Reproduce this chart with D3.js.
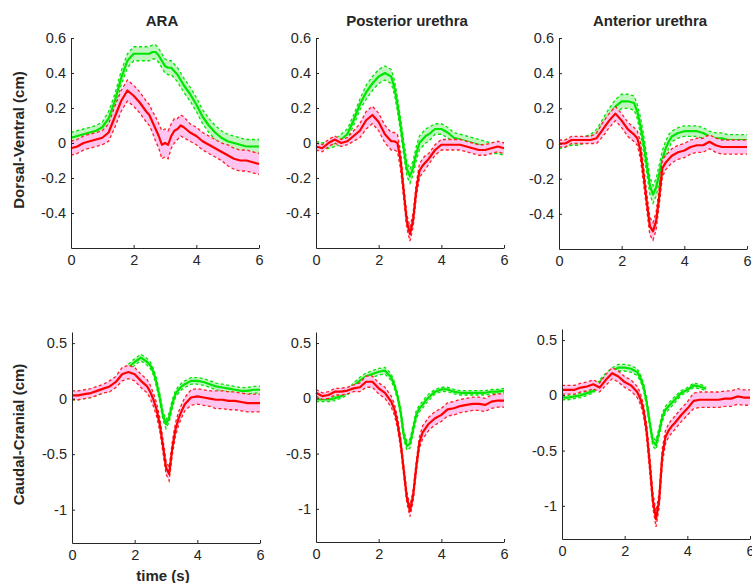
<!DOCTYPE html>
<html>
<head>
<meta charset="utf-8">
<script src="https://cdn.jsdelivr.net/npm/d3@7"></script>
<style>
  body { margin: 0; background: #fff; }
  svg { display: block; }
  text { font-family: "Liberation Sans", Arial, sans-serif; fill: #262626; }
</style>
</head>
<body>
<svg id="chart" width="752" height="583"></svg>
<script>
// time axis (s), finer around the dip
var time = [0,0.2,0.4,0.6,0.8,1.0,1.2,1.4,1.6,1.8,2.0,2.2,2.4,2.5,2.6,2.7,2.8,2.9,3.0,3.1,3.2,3.3,3.4,3.5,3.6,3.8,4.0,4.2,4.4,4.6,4.8,5.0,5.2,5.4,5.6,5.8,6.0];

var columnTitles = ["ARA", "Posterior urethra", "Anterior urethra"];
var rowLabels = ["Dorsal-Ventral (cm)", "Caudal-Cranial (cm)"];
var xTicks = [0, 2, 4, 6];
var dvTicks = [-0.4, -0.2, 0, 0.2, 0.4, 0.6];
var ccTicks = [-1, -0.5, 0, 0.5];
var dvDomain = [-0.6, 0.6];
var ccDomain = [-1.3, 0.6];

// dorsal-ventral, ARA
var dvAraGreen = [0.03,0.04,0.05,0.06,0.07,0.09,0.14,0.24,0.37,0.47,0.51,0.51,0.51,0.51,0.52,0.52,0.50,0.47,0.44,0.43,0.43,0.41,0.39,0.36,0.33,0.28,0.22,0.15,0.10,0.06,0.03,0.01,0.00,-0.01,-0.02,-0.02,-0.02];
var dvAraGreenSd = [0.03,0.03,0.03,0.03,0.03,0.03,0.04,0.04,0.04,0.04,0.04,0.04,0.04,0.04,0.04,0.04,0.04,0.04,0.04,0.04,0.04,0.04,0.04,0.04,0.04,0.04,0.04,0.04,0.04,0.04,0.04,0.04,0.04,0.04,0.04,0.04,0.04];
var dvAraRed = [-0.03,-0.02,0.00,0.01,0.02,0.03,0.06,0.15,0.24,0.30,0.27,0.23,0.18,0.16,0.12,0.08,0.04,-0.01,0.00,-0.01,0.04,0.07,0.08,0.10,0.09,0.06,0.04,0.01,-0.01,-0.03,-0.05,-0.07,-0.09,-0.10,-0.10,-0.11,-0.12];
var dvAraRedSd = [0.04,0.04,0.04,0.04,0.04,0.04,0.05,0.06,0.06,0.06,0.06,0.06,0.06,0.06,0.06,0.07,0.07,0.08,0.08,0.08,0.07,0.07,0.06,0.06,0.06,0.05,0.05,0.05,0.05,0.05,0.05,0.06,0.06,0.06,0.06,0.06,0.06];

// dorsal-ventral, posterior urethra
var dvPostGreen = [-0.01,-0.02,-0.01,0.00,0.02,0.05,0.13,0.22,0.29,0.34,0.38,0.40,0.38,0.32,0.22,0.10,-0.03,-0.15,-0.19,-0.14,-0.06,0.00,0.02,0.04,0.05,0.08,0.08,0.06,0.03,0.02,0.01,0.00,-0.01,-0.02,-0.03,-0.03,-0.04];
var dvPostGreenSd = [0.02,0.02,0.02,0.02,0.03,0.03,0.03,0.03,0.04,0.04,0.04,0.04,0.04,0.04,0.04,0.04,0.04,0.04,0.04,0.04,0.04,0.04,0.04,0.04,0.04,0.03,0.03,0.03,0.03,0.03,0.03,0.03,0.03,0.03,0.03,0.03,0.03];
var dvPostRed = [-0.02,-0.03,0.00,0.02,0.00,0.01,0.04,0.07,0.13,0.16,0.12,0.05,0.01,0.01,0.00,-0.10,-0.28,-0.45,-0.52,-0.44,-0.27,-0.16,-0.13,-0.11,-0.09,-0.04,-0.01,-0.01,-0.01,-0.01,-0.02,-0.03,-0.04,-0.04,-0.03,-0.02,-0.03];
var dvPostRedSd = [0.02,0.02,0.02,0.02,0.02,0.02,0.03,0.04,0.05,0.05,0.05,0.05,0.05,0.05,0.05,0.05,0.04,0.04,0.04,0.04,0.04,0.04,0.04,0.04,0.03,0.03,0.03,0.03,0.03,0.03,0.03,0.03,0.03,0.03,0.03,0.03,0.03];

// dorsal-ventral, anterior urethra
var dvAntGreen = [-0.01,0.00,0.01,0.01,0.02,0.03,0.05,0.11,0.16,0.21,0.24,0.24,0.23,0.18,0.10,0.00,-0.12,-0.24,-0.29,-0.25,-0.17,-0.09,-0.03,0.01,0.04,0.06,0.07,0.07,0.07,0.06,0.04,0.03,0.03,0.02,0.02,0.02,0.02];
var dvAntGreenSd = [0.02,0.02,0.02,0.02,0.02,0.02,0.03,0.03,0.04,0.04,0.04,0.04,0.04,0.04,0.05,0.05,0.05,0.05,0.05,0.05,0.05,0.05,0.04,0.04,0.03,0.03,0.03,0.03,0.03,0.03,0.03,0.03,0.03,0.03,0.03,0.03,0.03];
var dvAntRed = [0.00,0.00,0.02,0.02,0.02,0.02,0.03,0.08,0.13,0.17,0.13,0.08,0.05,0.03,-0.04,-0.18,-0.33,-0.47,-0.50,-0.44,-0.30,-0.14,-0.11,-0.09,-0.07,-0.05,-0.04,-0.02,-0.01,-0.01,0.01,-0.01,-0.02,-0.02,-0.02,-0.02,-0.02];
var dvAntRedSd = [0.02,0.02,0.02,0.02,0.02,0.02,0.03,0.04,0.04,0.04,0.04,0.04,0.04,0.04,0.05,0.05,0.05,0.05,0.05,0.05,0.05,0.05,0.04,0.04,0.04,0.04,0.04,0.04,0.04,0.04,0.04,0.04,0.04,0.04,0.04,0.04,0.04];

// caudal-cranial, ARA
var ccAraGreen = [0.02,0.02,0.03,0.04,0.06,0.08,0.11,0.16,0.22,0.28,0.33,0.37,0.33,0.30,0.24,0.14,0.01,-0.15,-0.23,-0.17,-0.05,0.04,0.08,0.11,0.13,0.16,0.16,0.15,0.13,0.11,0.10,0.09,0.08,0.07,0.07,0.08,0.08];
var ccAraGreenSd = [0.03,0.03,0.03,0.03,0.03,0.03,0.03,0.03,0.03,0.03,0.03,0.03,0.03,0.03,0.03,0.04,0.04,0.04,0.04,0.04,0.04,0.03,0.03,0.03,0.03,0.03,0.03,0.03,0.03,0.03,0.03,0.03,0.03,0.03,0.03,0.03,0.03];
var ccAraRed = [0.03,0.03,0.04,0.05,0.07,0.09,0.11,0.15,0.22,0.24,0.22,0.16,0.11,0.06,-0.01,-0.10,-0.23,-0.42,-0.62,-0.68,-0.45,-0.28,-0.18,-0.11,-0.05,0.01,0.02,0.01,0.00,-0.01,-0.01,-0.02,-0.02,-0.03,-0.04,-0.04,-0.04];
var ccAraRedSd = [0.04,0.04,0.04,0.04,0.04,0.04,0.05,0.05,0.06,0.06,0.06,0.06,0.06,0.06,0.06,0.06,0.06,0.06,0.06,0.06,0.06,0.06,0.06,0.06,0.06,0.07,0.07,0.07,0.07,0.08,0.08,0.08,0.08,0.08,0.08,0.08,0.08];

// caudal-cranial, posterior urethra
var ccPostGreen = [-0.01,-0.01,-0.01,0.00,0.02,0.05,0.11,0.16,0.20,0.22,0.24,0.25,0.19,0.12,0.02,-0.12,-0.33,-0.43,-0.41,-0.28,-0.15,-0.09,-0.06,-0.02,0.01,0.06,0.08,0.08,0.06,0.05,0.05,0.05,0.05,0.05,0.06,0.06,0.07];
var ccPostGreenSd = [0.02,0.02,0.02,0.02,0.02,0.02,0.03,0.03,0.03,0.03,0.03,0.03,0.03,0.03,0.03,0.04,0.04,0.04,0.04,0.04,0.04,0.03,0.03,0.03,0.03,0.02,0.02,0.02,0.02,0.02,0.02,0.02,0.02,0.02,0.02,0.02,0.02];
var ccPostRed = [0.05,0.02,0.03,0.06,0.06,0.07,0.09,0.10,0.15,0.15,0.09,0.05,-0.03,-0.10,-0.22,-0.40,-0.65,-0.90,-1.02,-0.88,-0.62,-0.40,-0.31,-0.27,-0.23,-0.18,-0.15,-0.10,-0.09,-0.07,-0.06,-0.05,-0.05,-0.06,-0.03,-0.02,-0.02];
var ccPostRedSd = [0.03,0.03,0.03,0.03,0.03,0.03,0.03,0.04,0.05,0.05,0.05,0.05,0.05,0.05,0.05,0.05,0.05,0.05,0.05,0.05,0.05,0.05,0.06,0.06,0.06,0.06,0.06,0.06,0.06,0.06,0.06,0.06,0.06,0.06,0.06,0.06,0.06];

// caudal-cranial, anterior urethra (green record stops after 4.6 s)
var ccAntGreen = [-0.02,-0.02,-0.01,0.00,0.02,0.04,0.12,0.17,0.22,0.25,0.25,0.24,0.21,0.16,0.08,-0.06,-0.25,-0.42,-0.45,-0.33,-0.20,-0.13,-0.10,-0.07,-0.04,0.02,0.05,0.09,0.08,0.06,null,null,null,null,null,null,null];
var ccAntGreenSd = [0.02,0.02,0.02,0.02,0.02,0.02,0.02,0.03,0.03,0.03,0.03,0.03,0.03,0.03,0.03,0.04,0.04,0.04,0.04,0.04,0.04,0.03,0.03,0.03,0.03,0.02,0.02,0.02,0.02,0.02,null,null,null,null,null,null,null];
var ccAntRed = [0.05,0.05,0.05,0.07,0.08,0.10,0.07,0.14,0.20,0.17,0.12,0.09,0.03,-0.03,-0.13,-0.32,-0.62,-0.95,-1.12,-0.95,-0.55,-0.38,-0.32,-0.28,-0.25,-0.18,-0.12,-0.05,-0.04,-0.04,-0.04,-0.04,-0.03,-0.03,-0.01,-0.02,-0.02];
var ccAntRedSd = [0.04,0.04,0.04,0.04,0.04,0.04,0.04,0.05,0.05,0.05,0.05,0.05,0.05,0.05,0.05,0.06,0.07,0.07,0.07,0.07,0.07,0.06,0.06,0.06,0.06,0.06,0.06,0.07,0.07,0.07,0.07,0.07,0.07,0.07,0.07,0.07,0.07];

var panels = [
  { row: 0, col: 0, green: dvAraGreen, greenSd: dvAraGreenSd, red: dvAraRed, redSd: dvAraRedSd },
  { row: 0, col: 1, green: dvPostGreen, greenSd: dvPostGreenSd, red: dvPostRed, redSd: dvPostRedSd },
  { row: 0, col: 2, green: dvAntGreen, greenSd: dvAntGreenSd, red: dvAntRed, redSd: dvAntRedSd },
  { row: 1, col: 0, green: ccAraGreen, greenSd: ccAraGreenSd, red: ccAraRed, redSd: ccAraRedSd },
  { row: 1, col: 1, green: ccPostGreen, greenSd: ccPostGreenSd, red: ccPostRed, redSd: ccPostRedSd },
  { row: 1, col: 2, green: ccAntGreen, greenSd: ccAntGreenSd, red: ccAntRed, redSd: ccAntRedSd }
];

// axes boxes: [left, top, bottom] in px
var boxes = [
  [[71, 38, 248], [316, 38, 248], [559, 38, 249]],
  [[72, 332, 543], [316, 332, 542], [562, 329, 539]]
];
var plotW = 188;

var svg = d3.select("#chart");

function fmt(d) { return String(d); }

panels.forEach(function (p) {
  var b = boxes[p.row][p.col];
  var x = d3.scaleLinear().domain([0, 6]).range([b[0], b[0] + plotW]);
  var y = d3.scaleLinear().domain(p.row == 0 ? dvDomain : ccDomain).range([b[2], b[1]]);
  var g = svg.append("g");

  var pts = function (vals, sd) {
    return time.map(function (t, i) {
      return { t: t, v: vals[i], s: sd[i] };
    });
  };

  var drawSeries = function (vals, sd, lineColor, bandColor, dashColor) {
    var data = pts(vals, sd);
    var ok = function (d) { return d.v != null; };
    g.append("path")
      .datum(data)
      .attr("fill", bandColor)
      .attr("stroke", "none")
      .attr("d", d3.area().defined(ok)
        .x(function (d) { return x(d.t); })
        .y0(function (d) { return y(d.v - d.s); })
        .y1(function (d) { return y(d.v + d.s); }));
    [-1, 1].forEach(function (k) {
      g.append("path")
        .datum(data)
        .attr("fill", "none")
        .attr("stroke", dashColor)
        .attr("stroke-width", 1.3)
        .attr("stroke-dasharray", "3,2.5")
        .attr("d", d3.line().defined(ok)
          .x(function (d) { return x(d.t); })
          .y(function (d) { return y(d.v + k * d.s); }));
    });
    g.append("path")
      .datum(data)
      .attr("fill", "none")
      .attr("stroke", lineColor)
      .attr("stroke-width", 2.2)
      .attr("stroke-linejoin", "round")
      .attr("d", d3.line().defined(ok)
        .x(function (d) { return x(d.t); })
        .y(function (d) { return y(d.v); }));
  };

  drawSeries(p.green, p.greenSd, "#00e600", "#bff5bf", "#00e600");
  drawSeries(p.red, p.redSd, "#ff0000", "#ffc4f0", "#ff2020");

  var xa = g.append("g")
    .attr("transform", "translate(0," + b[2] + ")")
    .call(d3.axisBottom(x).tickValues(xTicks).tickFormat(fmt)
      .tickSizeInner(-3).tickSizeOuter(0).tickPadding(7));
  var ya = g.append("g")
    .attr("transform", "translate(" + b[0] + ",0)")
    .call(d3.axisLeft(y).tickValues(p.row == 0 ? dvTicks : ccTicks).tickFormat(fmt)
      .tickSizeInner(-3).tickSizeOuter(0).tickPadding(5));
  [xa, ya].forEach(function (a) {
    a.selectAll("path, line").attr("stroke", "#262626");
    a.selectAll("text")
      .attr("fill", "#262626")
      .style("font-size", "14.5px")
      .style("font-family", "'Liberation Sans', Arial, sans-serif");
  });

  if (p.row == 0) {
    g.append("text")
      .attr("x", b[0] + plotW / 2 - 3)
      .attr("y", 26)
      .attr("text-anchor", "middle")
      .style("font-size", "15px")
      .style("font-weight", "bold")
      .text(columnTitles[p.col]);
  }
  if (p.col == 0) {
    g.append("text")
      .attr("transform", "translate(24," + ((b[1] + b[2]) / 2 - 3) + ") rotate(-90)")
      .attr("text-anchor", "middle")
      .style("font-size", "15px")
      .style("font-weight", "bold")
      .text(rowLabels[p.row]);
  }
  if (p.row == 1 && p.col == 0) {
    g.append("text")
      .attr("x", 163)
      .attr("y", 581)
      .attr("text-anchor", "middle")
      .style("font-size", "15px")
      .style("font-weight", "bold")
      .text("time (s)");
  }
});
</script>
</body>
</html>
